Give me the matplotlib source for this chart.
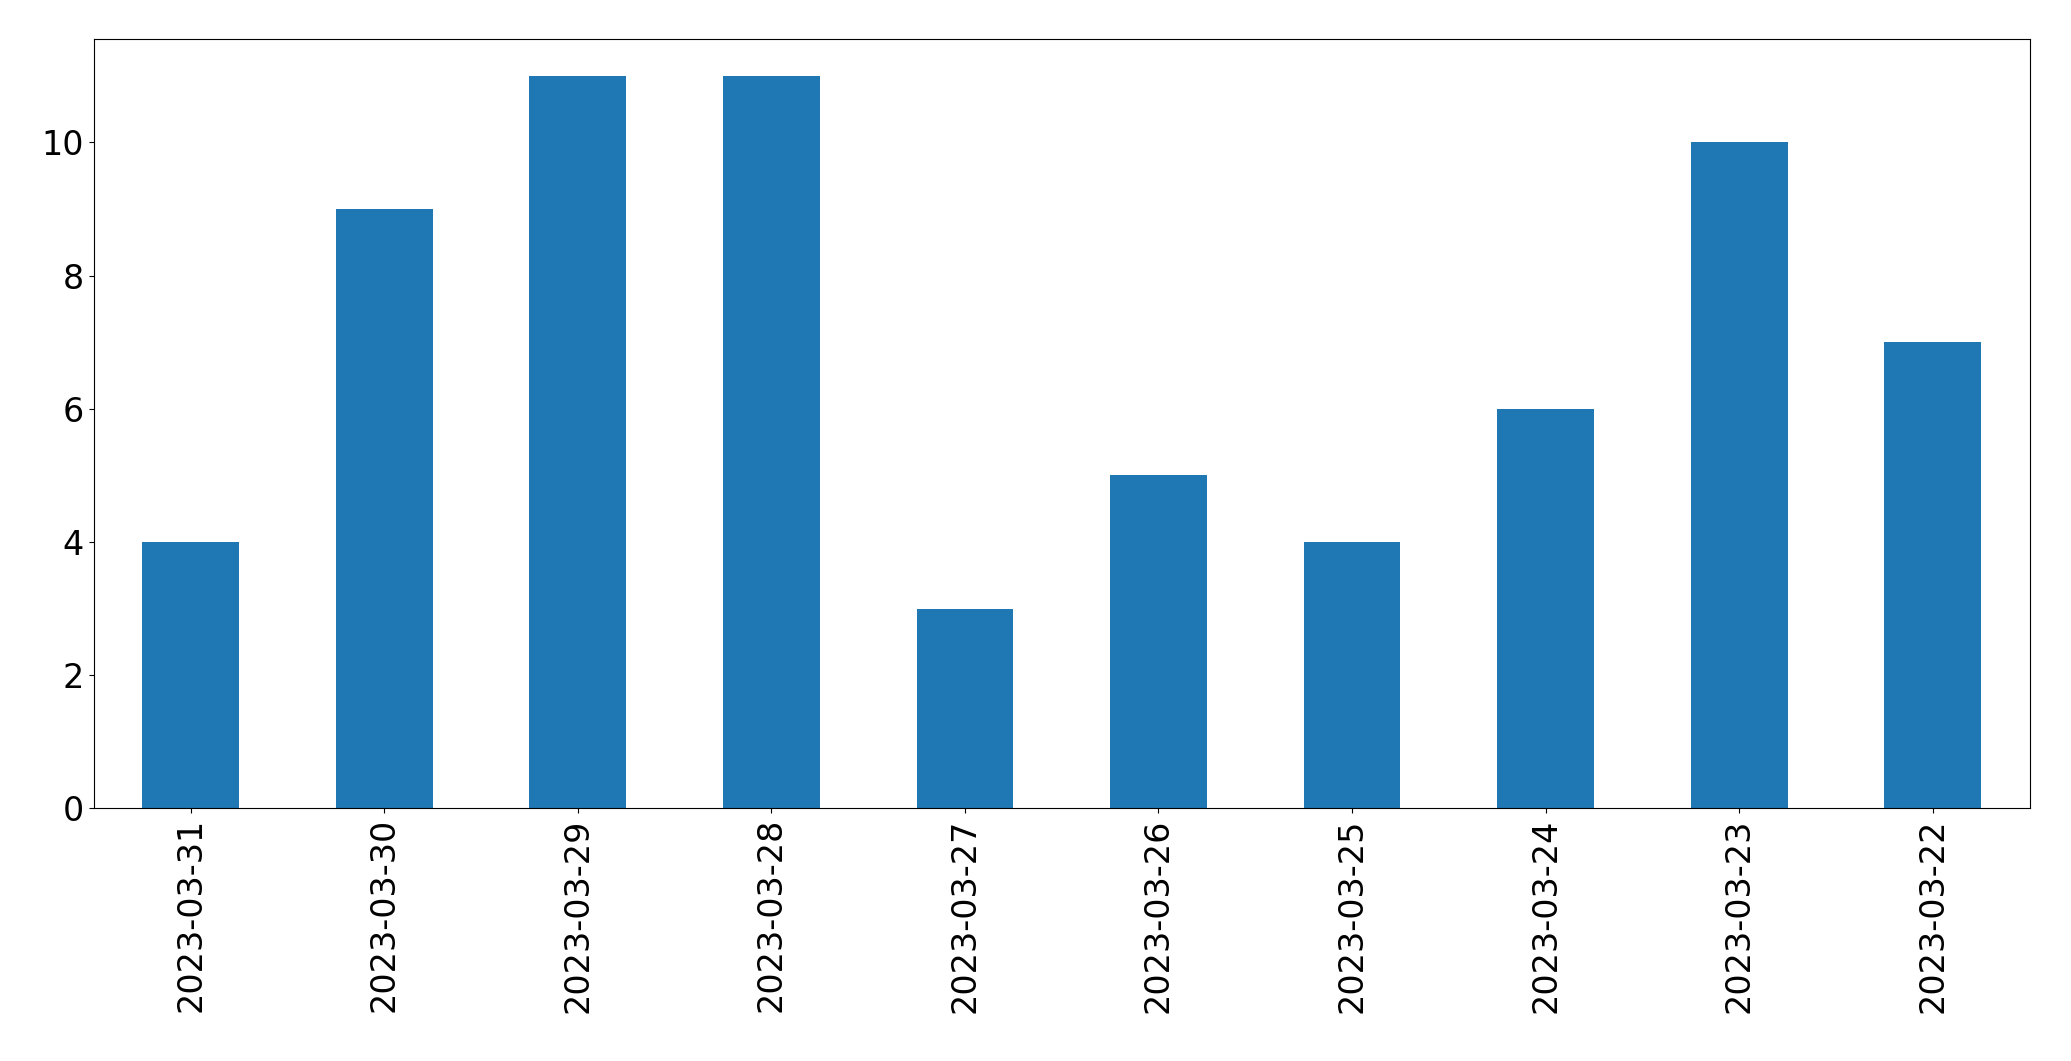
import matplotlib
matplotlib.use("Agg")
import matplotlib.pyplot as plt

dates = ["2023-03-31","2023-03-30","2023-03-29","2023-03-28","2023-03-27",
         "2023-03-26","2023-03-25","2023-03-24","2023-03-23","2023-03-22"]
counts = [4, 9, 11, 11, 3, 5, 4, 6, 10, 7]

fig = plt.figure(figsize=(20.71, 10.61), dpi=100)
ax = fig.add_axes([0.0453, 0.238, 0.9347, 0.725])
x = range(len(dates))
ax.bar(x, counts, width=0.5, color="#1f77b4")
ax.set_xticks(list(x))
ax.set_xticklabels(dates, rotation=90, fontsize=24)
ax.tick_params(axis="y", labelsize=24)
ax.set_xlim(-0.5, len(dates) - 0.5)
ax.set_ylim(0, 11.55)
fig.savefig("out.png", dpi=100)
